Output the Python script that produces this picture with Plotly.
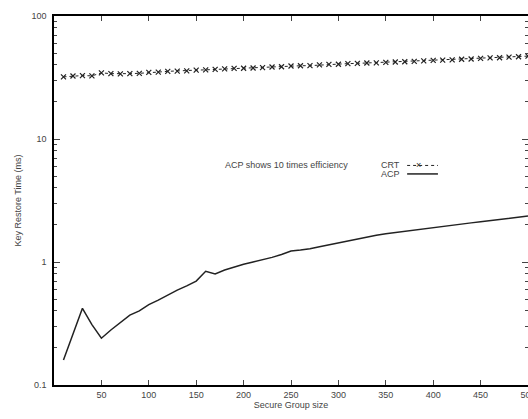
import plotly.graph_objects as go

group_size = list(range(10, 501, 10))

crt_ms = [32.0, 32.5, 32.8, 32.6, 34.5, 34.0, 33.8, 34.0, 34.2, 34.8,
          35.0, 35.5, 35.6, 35.8, 36.3, 36.5, 36.8, 37.2, 37.5, 37.6,
          37.8, 38.0, 38.5, 38.7, 39.2, 39.4, 39.5, 40.0, 40.4, 40.5,
          41.0, 41.2, 41.5, 41.6, 42.0, 42.3, 42.5, 42.8, 43.2, 43.6,
          43.8, 44.0, 44.5, 44.7, 45.2, 45.6, 45.8, 46.3, 46.6, 47.2]

acp_ms = [0.16, 0.26, 0.42, 0.31, 0.24, 0.28, 0.32, 0.37, 0.40, 0.45,
          0.49, 0.54, 0.59, 0.64, 0.70, 0.84, 0.80, 0.86, 0.91, 0.96,
          1.00, 1.04, 1.09, 1.15, 1.23, 1.25, 1.28, 1.33, 1.38, 1.44,
          1.49, 1.54, 1.59, 1.65, 1.70, 1.74, 1.77, 1.82, 1.87, 1.92,
          1.96, 2.00, 2.04, 2.08, 2.12, 2.17, 2.22, 2.27, 2.32, 2.37]

x_ticks = [50, 100, 150, 200, 250, 300, 350, 400, 450, 500]
y_ticks = [0.1, 1, 10, 100]
y_tick_text = ["0.1", "1", "10", "100"]
y_minor = [m * d for d in (0.1, 1, 10) for m in range(2, 10)]

fnt = dict(family="Liberation Sans", size=9, color="#444")

fig = go.Figure()
fig.add_trace(go.Scatter(
    x=group_size, y=crt_ms, mode="lines+markers", name="CRT",
    line=dict(color="#222", width=1, dash="dot"),
    marker=dict(symbol="x-thin", size=5, line=dict(width=1.2, color="#222"))
))
fig.add_trace(go.Scatter(
    x=group_size, y=acp_ms, mode="lines", name="ACP",
    line=dict(color="#222", width=1.5)
))

# gnuplot style key: label then sample
fig.add_annotation(x=0.734, y=0.595, xref="paper", yref="paper", text="CRT",
                   showarrow=False, xanchor="right", font=fnt)
fig.add_annotation(x=0.734, y=0.572, xref="paper", yref="paper", text="ACP",
                   showarrow=False, xanchor="right", font=fnt)
fig.add_shape(type="line", xref="paper", yref="paper", x0=0.745, x1=0.81,
              y0=0.595, y1=0.595, line=dict(color="#222", width=1, dash="dot"))
fig.add_annotation(x=0.778, y=0.595, xref="paper", yref="paper", text="×",
                   showarrow=False, font=dict(family="Liberation Sans", size=9, color="#222"))
fig.add_shape(type="line", xref="paper", yref="paper", x0=0.745, x1=0.81,
              y0=0.572, y1=0.572, line=dict(color="#222", width=1.5))

fig.add_annotation(x=0.49, y=0.595, xref="paper", yref="paper",
                   text="ACP shows 10 times efficiency", showarrow=False, font=fnt)

fig.update_layout(
    width=528, height=419,
    margin=dict(l=54, r=0, t=16, b=34),
    paper_bgcolor="white", plot_bgcolor="white",
    showlegend=False,
    font=fnt,
)
fig.update_xaxes(
    range=[0, 500], tickvals=x_ticks, ticks="inside", ticklen=5,
    showline=True, linecolor="black", linewidth=1.5, mirror="allticks",
    showgrid=False, zeroline=False, tickfont=fnt, automargin=False,
    ticklabeloverflow="allow",
    title=dict(text="Secure Group size", font=fnt, standoff=2)
)
fig.update_yaxes(
    type="log", range=[-1, 2], tickvals=y_ticks, ticktext=y_tick_text,
    ticks="inside", ticklen=6,
    minor=dict(tickvals=y_minor, ticks="inside", ticklen=3, showgrid=False),
    showline=True, linecolor="black", linewidth=1.5, mirror="allticks",
    showgrid=False, zeroline=False, tickfont=fnt, ticklabelstandoff=4,
    automargin=False,
    title=dict(text="Key Restore Time (ms)", font=fnt, standoff=8)
)

fig.write_html("out.html", config={"displayModeBar": False},
               post_script="document.body.style.margin='0';")
